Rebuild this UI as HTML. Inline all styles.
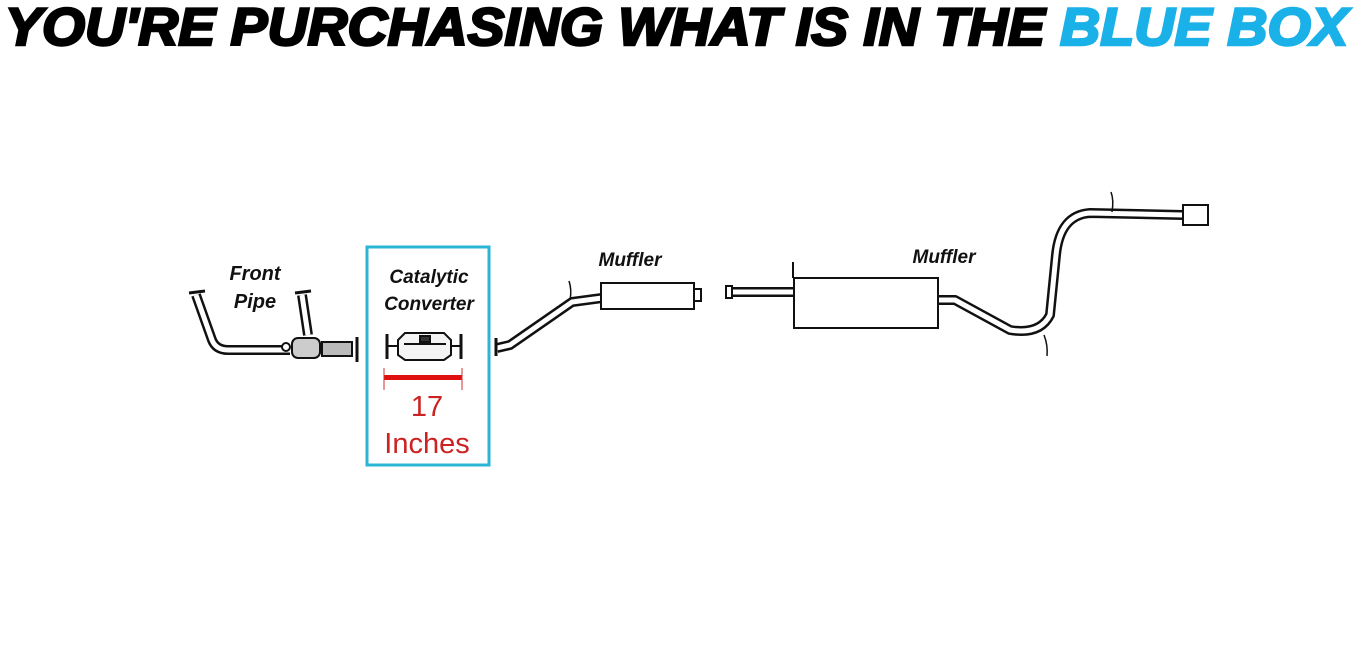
<!DOCTYPE html>
<html><head><meta charset="utf-8"><style>
html,body{margin:0;padding:0;background:#fff;}
svg{display:block}
</style></head><body>
<svg width="1361" height="661" viewBox="0 0 1361 661" xmlns="http://www.w3.org/2000/svg">
<rect width="1361" height="661" fill="#fff"/>
<g font-family="Liberation Sans, sans-serif" font-weight="bold" font-style="italic" font-size="53">
<text x="5" y="45" textLength="1040" lengthAdjust="spacingAndGlyphs" fill="#000" stroke="#000" stroke-width="2.5">YOU'RE PURCHASING WHAT IS IN THE</text>
<text x="1060" y="45" textLength="288" lengthAdjust="spacingAndGlyphs" fill="#1ab0e8" stroke="#1ab0e8" stroke-width="2.5">BLUE BOX</text>
</g>
<!-- blue box -->
<rect x="367" y="247" width="122" height="218" fill="none" stroke="#2bb5d6" stroke-width="3"/>
<g font-family="Liberation Sans, sans-serif" font-weight="bold" font-style="italic" fill="#111">
<text x="255" y="280" font-size="20" text-anchor="middle">Front</text>
<text x="255" y="308" font-size="20" text-anchor="middle">Pipe</text>
<text x="429" y="283" font-size="19" text-anchor="middle">Catalytic</text>
<text x="429" y="310" font-size="19" text-anchor="middle">Converter</text>
<text x="630" y="266" font-size="19" text-anchor="middle">Muffler</text>
<text x="944" y="263" font-size="19" text-anchor="middle">Muffler</text>
</g>
<g font-family="Liberation Sans, sans-serif" fill="#cc2222" text-anchor="middle">
<text x="427" y="416" font-size="29">17</text>
<text x="427" y="453" font-size="29">Inches</text>
</g>
<!-- red dimension -->
<rect x="384" y="375" width="78" height="5" fill="#e01010"/>
<line x1="384" y1="368" x2="384" y2="390" stroke="#c33" stroke-width="1"/>
<line x1="462" y1="368" x2="462" y2="390" stroke="#c33" stroke-width="1"/>
<!-- pipes: double line -->
<g fill="none" stroke-linejoin="round" stroke-linecap="butt">
<g stroke="#111" stroke-width="10">
<path d="M196 295 L212 340 Q216 350 228 350 L290 350"/>
<path d="M302 295 L308 335"/>
<path d="M320 348 L352 348"/>
<path d="M497 348 L510 345 L572 302 L602 298"/>
<path d="M726 292 L793 292"/>
<path d="M938 300 L955 300 L1010 330 Q1040 335 1050 315 L1056 255 Q1060 215 1090 213 L1183 215"/>
</g>
<g stroke="#fff" stroke-width="5">
<path d="M196 295 L212 340 Q216 350 228 350 L290 350"/>
<path d="M302 295 L308 335"/>
<path d="M320 348 L352 348"/>
<path d="M497 348 L510 345 L572 302 L602 298"/>
<path d="M726 292 L793 292"/>
<path d="M938 300 L955 300 L1010 330 Q1040 335 1050 315 L1056 255 Q1060 215 1090 213 L1183 215"/>
</g>
</g>
<g stroke="#111" fill="none" stroke-width="2">
<!-- flanges front pipe -->
<line x1="189" y1="293" x2="205" y2="291" stroke-width="3"/>
<line x1="295" y1="293" x2="311" y2="291" stroke-width="3"/>
<circle cx="286" cy="347" r="4" fill="#fff"/>
<rect x="292" y="338" width="28" height="20" rx="6" fill="#ccc"/>
<rect x="322" y="342" width="30" height="14" fill="#bbb"/>
<line x1="357" y1="337" x2="357" y2="362" stroke-width="3"/>
<!-- cat -->
<line x1="387" y1="334" x2="387" y2="359" stroke-width="3"/>
<line x1="387" y1="346" x2="398" y2="346"/>
<path d="M398 340 L405 333 L444 333 L451 340 L451 355 L444 360 L405 360 L398 355 Z" fill="#f4f4f4"/>
<line x1="404" y1="344" x2="446" y2="344"/>
<rect x="420" y="336" width="10" height="6" fill="#333"/>
<line x1="451" y1="346" x2="461" y2="346"/>
<line x1="461" y1="334" x2="461" y2="359" stroke-width="3"/>
<!-- next flange -->
<line x1="496" y1="338" x2="496" y2="356" stroke-width="3"/>
<!-- muffler 1 -->
<rect x="601" y="283" width="93" height="26" fill="#fff"/>
<rect x="694" y="289" width="7" height="12" fill="#fff"/>
<path d="M569 281 Q572 290 570 300" stroke-width="1.5"/>
<!-- muffler 2 -->
<rect x="726" y="286" width="6" height="12" fill="#fff"/>
<rect x="794" y="278" width="144" height="50" fill="#fff"/>
<line x1="793" y1="262" x2="793" y2="278"/>
<rect x="1183" y="205" width="25" height="20" fill="#fff"/>
<path d="M1111 192 Q1114 200 1112 212" stroke-width="1.5"/>
<path d="M1044 335 Q1048 345 1047 356" stroke-width="1.5"/>
</g>
</svg>
</body></html>
